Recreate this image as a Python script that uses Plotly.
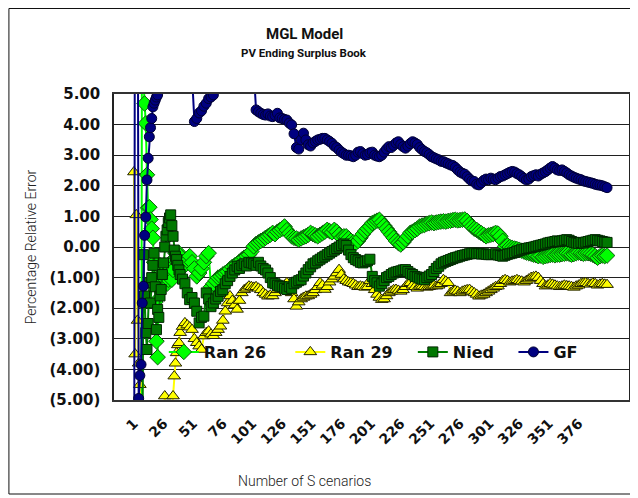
import plotly.graph_objects as go

# ---------------- data ----------------
scenarios = list(range(1, 41)) + list(range(42, 401, 2))

ran26 = [
    -13, -13, -13, -13, -13, -13, -13, 13, 5.6, 4.69,
    4.04, 2.36, 1.28, 1.3, 0.9, 0.6, 0.3, -0.5, -1.8, -3.08,
    -3.6, -1.2, -0.6, -0.9, -1.3, -1.0, -0.6, -0.9, -1.2, -1.07,
    -0.75, -0.5, -1.07, -0.75, -0.4, -0.2, -0.35, -0.5, -0.2, -0.3,
    -0.5, -0.6, -0.45, -0.3, -0.5, -0.7, -0.96, -0.85, -0.7, -0.5,
    -0.3, -0.2, -1.3, -1.2, -1.1, -1.0, -0.96, -0.9, -0.85, -0.8,
    -0.72, -0.65, -0.6, -0.55, -0.48, -0.41, -0.35, -0.3, -0.25, -0.15,
    0.02, 0.1, 0.15, 0.2, 0.24, 0.3, 0.35, 0.4, 0.46, 0.42,
    0.5, 0.55, 0.6, 0.67, 0.55, 0.45, 0.35, 0.3, 0.28, 0.24,
    0.28, 0.32, 0.35, 0.4, 0.46, 0.42, 0.38, 0.35, 0.4, 0.45,
    0.5, 0.56, 0.52, 0.48, 0.56, 0.5, 0.4, 0.3, 0.35, 0.35,
    0.28, 0.2, 0.15, 0.13, 0.2, 0.3, 0.42, 0.52, 0.6, 0.67,
    0.78, 0.82, 0.86, 0.89, 0.8, 0.7, 0.6, 0.5, 0.4, 0.3,
    0.2, 0.13, 0.08, 0.15, 0.25, 0.35, 0.46, 0.5, 0.55, 0.6,
    0.67, 0.7, 0.72, 0.76, 0.78, 0.8, 0.78, 0.8, 0.82, 0.83,
    0.84, 0.83, 0.85, 0.86, 0.88, 0.89, 0.87, 0.88, 0.89, 0.9,
    0.85, 0.75, 0.67, 0.6, 0.56, 0.5, 0.45, 0.4, 0.35, 0.38,
    0.4, 0.42, 0.46, 0.44, 0.35, 0.2, 0.02, 0.05, 0.0, -0.03,
    -0.05, -0.07, -0.09, -0.12, -0.15, -0.18, -0.2, -0.22, -0.25, -0.27,
    -0.3, -0.28, -0.32, -0.3, -0.28, -0.26, -0.25, -0.27, -0.25, -0.25,
    -0.23, -0.22, -0.2, -0.22, -0.25, -0.23, -0.2, -0.18, -0.2, -0.22,
    -0.2, -0.2, -0.22, -0.25, -0.3, -0.35, -0.3, -0.28, -0.3, -0.28,
]

ran29 = [
    2.45, -3.5, 1.05, -2.4, -3.8, -4.5, -7, -7, -7, -7,
    -7, -7, -7, -7, -7, -7, -7, -7, -7, -7,
    -7, -7, -7, -7, -7, -7, -4.87, -6, -7, -7,
    -7, -6, -5.5, -4.87, -4.22, -3.8, -3.46, -3.2, -3.13, -2.8,
    -2.6, -2.48, -2.55, -2.62, -2.7, -3.0, -3.13, -3.24, -3.35, -2.91,
    -2.8, -2.75, -2.85, -2.9, -2.8, -2.7, -2.59, -2.4, -2.1, -1.83,
    -1.6, -1.75, -1.9, -2.04, -1.75, -1.5, -1.4, -1.35, -1.28, -1.3,
    -1.32, -1.3, -1.35, -1.4, -1.5, -1.55, -1.61, -1.58, -1.6, -1.5,
    -1.4, -1.35, -1.3, -1.25, -1.17, -1.3, -1.5, -1.7, -1.94, -1.8,
    -1.7, -1.65, -1.61, -1.6, -1.55, -1.5, -1.4, -1.3, -1.17, -1.25,
    -1.39, -1.3, -1.15, -1.05, -0.96, -0.85, -0.74, -0.9, -1.05, -1.1,
    -1.15, -1.17, -1.2, -1.25, -1.3, -1.28, -1.3, -1.32, -1.3, -1.1,
    -1.2, -1.4, -1.55, -1.65, -1.72, -1.7, -1.6, -1.5, -1.45, -1.4,
    -1.39, -1.42, -1.45, -1.4, -1.3, -1.2, -1.17, -1.25, -1.3, -1.35,
    -1.3, -1.28, -1.3, -1.32, -1.3, -1.28, -1.25, -1.28, -1.25, -1.2,
    -1.07, -1.12, -1.17, -1.5, -1.45, -1.42, -1.45, -1.5, -1.45, -1.42,
    -1.4, -1.39, -1.45, -1.5, -1.55, -1.61, -1.58, -1.55, -1.5, -1.45,
    -1.4, -1.35, -1.3, -1.28, -1.2, -1.1, -1.07, -1.1, -1.15, -1.12,
    -1.1, -1.07, -1.1, -1.12, -1.15, -1.1, -1.05, -1.0, -0.98, -0.96,
    -1.0, -1.1, -1.2, -1.28, -1.25, -1.2, -1.22, -1.25, -1.28, -1.3,
    -1.28, -1.25, -1.27, -1.28, -1.3, -1.32, -1.28, -1.25, -1.2, -1.18,
    -1.17, -1.2, -1.22, -1.18, -1.2, -1.25, -1.22, -1.2, -1.22, -1.23,
]

nied = [
    -9, -9, -9, -9, -9, -9, -9, -9, -0.25, -1.6,
    -2.8, -3.35, -2.5, -1.17, -1.83, -1.0, -0.6, -0.2, -1.3, -2.7,
    -2.04, -2.3, -1.6, -1.39, -0.9, -0.52, 0.0, 0.35, 0.56, 0.8,
    0.95, 1.05, 0.7, 0.35, -0.1, -0.3, -0.41, -0.6, -0.75, -0.9,
    -1.05, -1.2, -1.5, -1.72, -1.65, -1.83, -2.1, -2.48, -2.3, -2.26,
    -1.5, -1.7, -1.95, -1.83, -1.7, -1.61, -1.45, -1.4, -1.2, -1.1,
    -0.96, -0.85, -0.75, -0.63, -0.7, -0.6, -0.55, -0.62, -0.5, -0.52,
    -0.55, -0.6, -0.5, -0.62, -0.7, -0.75, -0.85, -1.0, -1.17, -1.2,
    -1.25, -1.28, -1.3, -1.35, -1.39, -1.3, -1.35, -1.2, -1.15, -1.1,
    -1.07, -0.95, -0.85, -0.74, -0.65, -0.55, -0.52, -0.45, -0.4, -0.35,
    -0.3, -0.25, -0.2, -0.15, -0.1, -0.05, 0.0, 0.05, 0.1, 0.05,
    -0.1, -0.25, -0.35, -0.41, -0.45, -0.5, -0.52, -0.48, -0.45, -0.4,
    -0.96, -1.1, -1.17, -1.28, -1.2, -1.1, -1.0, -0.96, -0.9, -0.85,
    -0.82, -0.8, -0.78, -0.75, -0.74, -0.8, -0.86, -0.9, -0.96, -0.98,
    -1.02, -1.05, -1.07, -1.0, -0.95, -0.9, -0.8, -0.7, -0.63, -0.55,
    -0.5, -0.47, -0.44, -0.41, -0.38, -0.35, -0.33, -0.3, -0.28, -0.26,
    -0.24, -0.22, -0.2, -0.2, -0.22, -0.21, -0.23, -0.22, -0.24, -0.25,
    -0.25, -0.24, -0.22, -0.26, -0.28, -0.3, -0.27, -0.24, -0.22, -0.2,
    -0.18, -0.14, -0.12, -0.09, -0.07, -0.05, -0.03, -0.02, 0.0, 0.02,
    0.04, 0.06, 0.08, 0.1, 0.13, 0.15, 0.16, 0.18, 0.2, 0.18,
    0.2, 0.22, 0.24, 0.22, 0.18, 0.15, 0.13, 0.12, 0.15, 0.13,
    0.16, 0.18, 0.2, 0.22, 0.24, 0.22, 0.2, 0.18, 0.16, 0.15,
]

gf = [
    -14, 14, 14, 14, -4.95, -4.2, -3.84, -1.83, -1.28, 0.38,
    0.98, 2.19, 2.9, 3.6, 3.9, 4.2, 4.58, 4.7, 4.8, 4.9,
    4.97, 5.4, 5.8, 6.1, 6.3, 6.5, 6.6, 6.8, 6.9, 7.0,
    7.1, 7.1, 7.0, 7.0, 6.9, 6.9, 6.9, 6.8, 6.8, 6.8,
    6.8, 6.5, 6.2, 5.9, 5.6, 4.1, 4.2, 4.38, 4.45, 4.6,
    4.7, 4.85, 4.9, 4.97, 5.3, 5.8, 6.2, 6.5, 6.8, 7.0,
    7.2, 7.3, 7.4, 7.5, 7.5, 7.4, 7.2, 7.0, 6.6, 6.2,
    5.8, 4.48, 4.42, 4.37, 4.33, 4.31, 4.35, 4.28, 4.26, 4.3,
    4.37, 4.22, 4.2, 4.17, 4.15, 4.05, 3.99, 3.7, 3.25, 3.2,
    3.5, 3.72, 3.5, 3.34, 3.3, 3.4, 3.45, 3.5, 3.52, 3.55,
    3.55, 3.5, 3.45, 3.39, 3.3, 3.25, 3.17, 3.1, 3.05, 3.0,
    3.0, 2.98, 2.95, 3.0, 3.1, 3.12, 3.05, 3.0, 3.02, 3.08,
    3.1, 3.0, 2.97, 2.95, 3.0, 3.1, 3.2, 3.28, 3.25, 3.32,
    3.4, 3.44, 3.35, 3.28, 3.23, 3.3, 3.38, 3.44, 3.4, 3.35,
    3.25, 3.18, 3.12, 3.08, 3.02, 2.95, 2.92, 2.88, 2.85, 2.8,
    2.79, 2.75, 2.72, 2.68, 2.66, 2.6, 2.52, 2.45, 2.41, 2.38,
    2.3, 2.22, 2.16, 2.14, 2.05, 2.03, 2.1, 2.18, 2.22, 2.2,
    2.25, 2.22, 2.2, 2.25, 2.3, 2.32, 2.36, 2.4, 2.44, 2.47,
    2.45, 2.4, 2.36, 2.3, 2.24, 2.19, 2.22, 2.3, 2.33, 2.36,
    2.32, 2.38, 2.42, 2.46, 2.52, 2.58, 2.63, 2.58, 2.52, 2.5,
    2.52, 2.47, 2.42, 2.36, 2.32, 2.28, 2.25, 2.22, 2.2, 2.16,
    2.14, 2.12, 2.1, 2.08, 2.05, 2.03, 2.02, 2.0, 1.97, 1.94,
]

x_tick_vals = [1, 26, 51, 76, 101, 126, 151, 176, 201, 226, 251, 276, 301, 326, 351, 376]
x_tick_text = [str(v) for v in x_tick_vals]
y_tick_vals = [5, 4, 3, 2, 1, 0, -1, -2, -3, -4, -5]
y_tick_text = ["5.00", "4.00", "3.00", "2.00", "1.00", "0.00",
               "(1.00)", "(2.00)", "(3.00)", "(4.00)", "(5.00)"]

# ---------------- figure ----------------
# the page keeps the browser's default 8px body margin, so the figure is
# laid out in page coordinates shifted by OFF
OFF = 8
W, H = 630, 490
L, T = 114 - OFF, 94 - OFF
R = W - (631 - OFF)
B = H - (400 - OFF)
PW, PH = W - L - R, H - T - B


def px_x(p):
    return (p - OFF - L) / PW


def px_y(p):
    return (H - B - (p - OFF)) / PH


BOLD = "DejaVu Sans"
SANS = "Roboto, Liberation Sans, sans-serif"

series = [
    ("Ran 26", ran26, "diamond", 12, "#00FF00", "#0B5A0B", "#00FF00"),
    ("Ran 29", ran29, "triangle-up", 11, "#FFFF00", "#222200", "#FFFF00"),
    ("Nied", nied, "square", 10, "#007800", "#002800", "#008000"),
    ("GF", gf, "circle", 10, "#000080", "#000033", "#000080"),
]
legend_keys = ["legend", "legend2", "legend3", "legend4"]
legend_starts = [163, 290, 413, 514]

fig = go.Figure()
for (name, vals, sym, size, fill, edge, lcol), leg in zip(series, legend_keys):
    fig.add_trace(go.Scatter(
        x=scenarios, y=vals, name=name, mode="lines+markers",
        line=dict(color=lcol, width=2),
        marker=dict(symbol=sym, size=size, color=fill,
                    line=dict(color=edge, width=1)),
        legend=leg,
    ))

legends = {}
for key, start in zip(legend_keys, legend_starts):
    legends[key] = dict(
        orientation="h", xanchor="left", yanchor="middle",
        x=px_x(start + 1), y=px_y(352),
        bgcolor="rgba(0,0,0,0)", borderwidth=0,
        font=dict(family=BOLD, size=16, color="#111", weight="bold"))

fig.update_layout(
    width=W, height=H,
    margin=dict(l=L, r=R, t=T, b=B),
    paper_bgcolor="white", plot_bgcolor="white",
    showlegend=True,
    **legends,
    xaxis=dict(
        range=[-15.8, 418.5], tickmode="array",
        tickvals=x_tick_vals, ticktext=x_tick_text, tickangle=-45,
        tickfont=dict(family=BOLD, size=14, color="#111", weight="bold"),
        ticklabelstandoff=8,
        showgrid=False, zeroline=False, showline=True, mirror=True,
        linecolor="#333", linewidth=1.5, ticks="",
    ),
    yaxis=dict(
        range=[-5, 5], tickmode="array",
        tickvals=y_tick_vals, ticktext=y_tick_text,
        tickfont=dict(family=BOLD, size=15, color="#111", weight="bold"),
        ticklabelstandoff=9,
        showgrid=True, gridcolor="#202020", gridwidth=1,
        zeroline=False, showline=True, mirror=True,
        linecolor="#222", linewidth=1.5, ticks="",
        title=dict(text="Percentage Relative Error",
                   font=dict(family=SANS, size=14, color="#222", weight=300),
                   standoff=10),
    ),
    annotations=[
        dict(text="<b>MGL Model</b>", xref="paper", yref="paper",
             x=px_x(305), y=px_y(34), showarrow=False,
             xanchor="center", yanchor="middle",
             font=dict(family=SANS, size=15, color="#111")),
        dict(text="<b>PV Ending Surplus Book</b>", xref="paper", yref="paper",
             x=px_x(305), y=px_y(53), showarrow=False,
             xanchor="center", yanchor="middle",
             font=dict(family=SANS, size=11.5, color="#111")),
        dict(text="Number of S cenarios", xref="paper", yref="paper",
             x=px_x(305), y=px_y(481), showarrow=False,
             xanchor="center", yanchor="middle",
             font=dict(family=SANS, size=14, color="#222", weight=300)),
    ],
    shapes=[
        dict(type="rect", xref="paper", yref="paper",
             x0=px_x(OFF + 0.5), x1=px_x(633), y0=px_y(494), y1=px_y(OFF + 0.5),
             line=dict(color="#111", width=1), fillcolor="rgba(0,0,0,0)",
             layer="above"),
    ],
)

fig.write_html("out.html", config={"displayModeBar": False})
